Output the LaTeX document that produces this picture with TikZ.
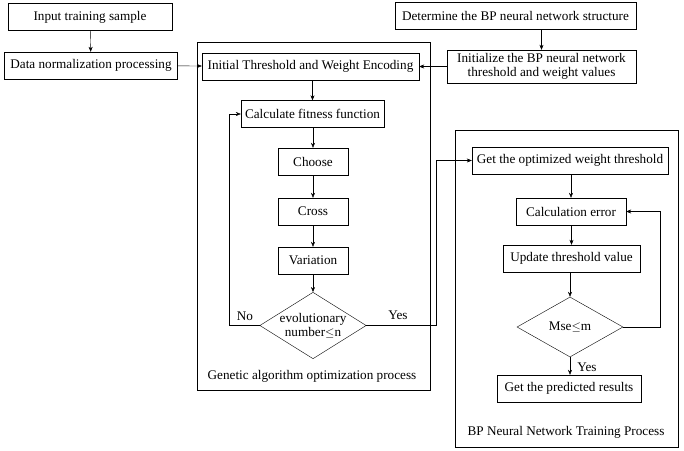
\documentclass[tikz,border=0pt]{standalone}
\usepackage{fontspec}
\setmainfont{Liberation Serif}
\usetikzlibrary{shapes.geometric,arrows.meta}
\begin{document}
\begin{tikzpicture}[x=1pt,y=-1pt,
  every node/.style={font=\fontsize{13.2}{14}\selectfont},
  box/.style={draw,thin,minimum height=27pt,inner sep=1pt},
  dia/.style={draw,thin,diamond,aspect=1.6,inner sep=0pt,align=center},
  grp/.style={draw,thin},
  arr/.style={-{Stealth[length=5pt,width=4pt]},thin}]
\useasboundingbox (0,0) rectangle (684,450);
\draw[grp] (197,42) rectangle (430,390);
\draw[grp] (455,130) rectangle (678,447);
\node (lg) at (312,376) {Genetic algorithm optimization process};
\node (lb) at (566,432) {BP Neural Network Training Process};
\node[box,minimum width=164pt] (in) at (90,17) {Input training sample};
\node[box,minimum width=173pt] (dn) at (91,65.5) {Data normalization processing};
\node[box,minimum width=217pt] (iw) at (310.5,66.5) {Initial Threshold and Weight Encoding};
\node[box,minimum width=241pt] (det) at (515.5,16) {Determine the BP neural network structure};
\node[box,minimum width=189pt,minimum height=33pt,align=center,font=\fontsize{13.2}{13.5}\selectfont] (ini) at (541.5,66.5) {Initialize the BP neural network\\threshold and weight values};
\node[box,minimum width=143pt] (cf) at (312.5,114) {Calculate fitness function};
\node[box,minimum width=70pt] (ch) at (313,161.5) {Choose};
\node[box,minimum width=70pt] (cr) at (313,211.5) {Cross};
\node[box,minimum width=70pt] (va) at (313,260.5) {Variation};
\node[dia,minimum width=98pt,minimum height=62pt] (ev) at (313,325.5) {evolutionary\\number$\le$n};
\node[box,minimum width=196pt] (go) at (570,160.5) {Get the optimized weight threshold};
\node[box,minimum width=110pt] (ce) at (571,211.5) {Calculation error};
\node[box,minimum width=137pt] (ut) at (571.5,258.5) {Update threshold value};
\node[dia,minimum width=106pt,minimum height=60pt] (ms) at (570,327) {Mse$\le$m};
\node[box,minimum width=144pt] (pr) at (569,388.5) {Get the predicted results};
\coordinate (c1) at (229,325.5);
\coordinate (c2) at (436,325.5);
\coordinate (c3) at (660,327);
\draw[arr] (in) -- (dn);
\draw[arr] (dn) -- (iw);
\draw[arr] (det.south -| ini) -- (ini);
\draw[arr] (ini) -- (iw);
\draw[arr] (iw.south -| cf) -- (cf);
\draw[arr] (cf.south -| ch) -- (ch);
\draw[arr] (ch) -- (cr);
\draw[arr] (cr) -- (va);
\draw[arr] (va) -- (ev);
\draw[arr] (ev.west) -- (c1) |- (cf.west);
\node at (245,316) {No};
\draw[arr] (ev.east) -- (c2) |- (go.west);
\node at (398,315) {Yes};
\draw[arr] (go.south -| ce) -- (ce);
\draw[arr] (ce.south -| ut) -- (ut);
\draw[arr] (ut.south -| ms) -- (ms);
\draw[arr] (ms) -- (pr.north -| ms);
\node at (587,367) {Yes};
\draw[arr] (ms.east) -- (c3) |- (ce.east);
\end{tikzpicture}
\end{document}
